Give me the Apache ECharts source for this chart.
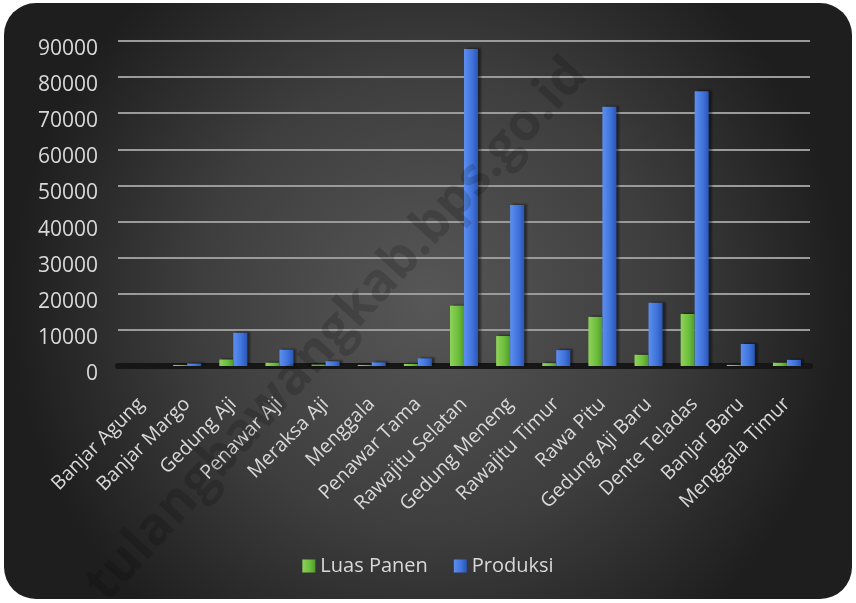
<!DOCTYPE html>
<html>
<head>
<meta charset="utf-8">
<script src="https://cdn.jsdelivr.net/npm/echarts@6/dist/echarts.min.js"></script>
<style>
html,body{margin:0;padding:0;background:#fff;}
#chart{width:856px;height:603px;}
</style>
</head>
<body>
<div id="chart"></div>
<script>
const categories = ["Banjar Agung","Banjar Margo","Gedung Aji","Penawar Aji","Meraksa Aji","Menggala","Penawar Tama","Rawajitu Selatan","Gedung Meneng","Rawajitu Timur","Rawa Pitu","Gedung Aji Baru","Dente Teladas","Banjar Baru","Menggala Timur"];
const luasPanen = [0, 300, 1800, 900, 400, 300, 600, 16700, 8300, 800, 13600, 3100, 14400, 300, 900];
const produksi = [0, 700, 9200, 4500, 1300, 1000, 2100, 87800, 44600, 4400, 71800, 17500, 76100, 6100, 1700];
const seriesNames = ["Luas Panen", "Produksi"];
const yTicks = {min: 0, max: 90000, interval: 10000};

const chart = echarts.init(document.getElementById('chart'));
const font = "'Open Sans', 'DejaVu Sans', sans-serif";
function grad(c1, c2, c3) {
  return new echarts.graphic.LinearGradient(0, 0, 1, 0, [
    {offset: 0, color: c1}, {offset: 0.6, color: c2}, {offset: 1, color: c3}
  ]);
}
chart.setOption({
  animation: false,
  color: ['#6cbd3c', '#3f73da'],
  graphic: [
    {
      type: 'rect', z: -10, silent: true,
      shape: {x: 4, y: 3, width: 848, height: 596, r: 32},
      style: {
        fill: new echarts.graphic.RadialGradient(0.5, 0.5, 0.7, [
          {offset: 0, color: '#575757'},
          {offset: 0.55, color: '#3e3e3e'},
          {offset: 1, color: '#1e1e1e'}
        ])
      }
    },
    {
      type: 'text', z: 100, silent: true,
      x: 337, y: 330, rotation: 0.83,
      style: {
        text: 'tulangbawangkab.bps.go.id',
        font: "bold 52px 'Open Sans', sans-serif",
        fill: 'rgba(0,0,0,0.16)',
        align: 'center', verticalAlign: 'middle'
      }
    }
  ],
  grid: {left: 118, right: 46, top: 41, bottom: 237, containLabel: false},
  legend: {
    data: seriesNames,
    bottom: 22,
    left: 'center',
    itemWidth: 13, itemHeight: 13, itemGap: 26,
    icon: 'rect',
    textStyle: {color: '#d9d9d9', fontSize: 20, fontFamily: font}
  },
  xAxis: {
    type: 'category',
    data: categories,
    axisLine: {show: true, lineStyle: {color: '#161616', width: 6}},
    axisTick: {show: false},
    axisLabel: {
      rotate: 45, interval: 0, margin: 35,
      color: '#d9d9d9', fontSize: 19.5, fontFamily: font
    }
  },
  yAxis: {
    type: 'value',
    min: yTicks.min, max: yTicks.max, interval: yTicks.interval,
    axisLine: {show: false},
    axisTick: {show: false},
    splitLine: {lineStyle: {color: '#9a9a9a', width: 2}},
    axisLabel: {
      color: '#d9d9d9', fontSize: 21, fontFamily: font, margin: 20,
      verticalAlign: 'top', lineHeight: 16,
      formatter: function (v) { return String(v); }
    }
  },
  series: [
    {
      name: seriesNames[0], type: 'bar', data: luasPanen,
      barWidth: 14, barGap: '0%',
      itemStyle: {
        color: grad('#8fd35a', '#6cbd3c', '#4f9a2a'),
        shadowColor: 'rgba(0,0,0,0.45)', shadowOffsetX: 3, shadowOffsetY: -1, shadowBlur: 2
      }
    },
    {
      name: seriesNames[1], type: 'bar', data: produksi,
      barWidth: 14,
      itemStyle: {
        color: grad('#5d8ff0', '#3f73da', '#2a55b5'),
        shadowColor: 'rgba(0,0,0,0.45)', shadowOffsetX: 3, shadowOffsetY: -1, shadowBlur: 2
      }
    }
  ]
});
</script>
</body>
</html>
